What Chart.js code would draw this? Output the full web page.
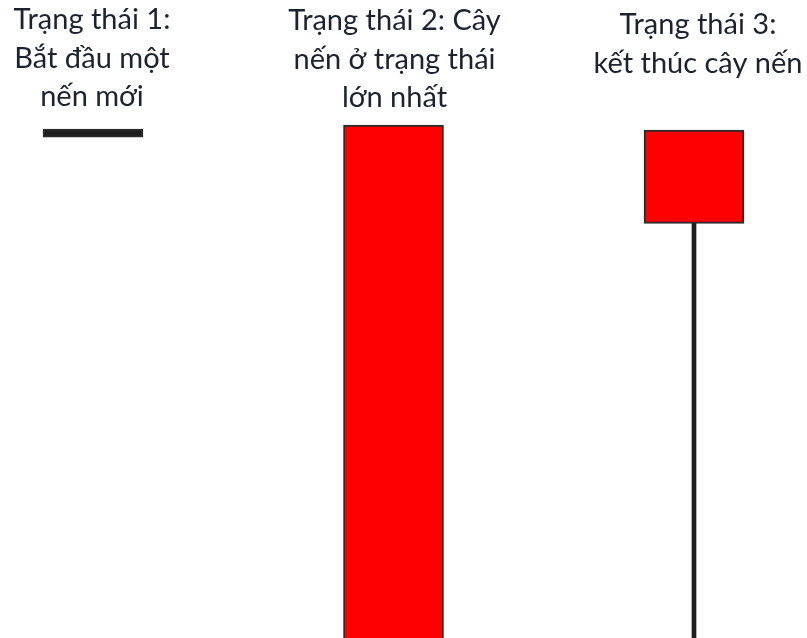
<!DOCTYPE html>
<html>
<head>
<meta charset="utf-8">
<script src="https://cdn.jsdelivr.net/npm/chart.js@4"></script>
<style>
  html, body { margin: 0; padding: 0; background: #fff; }
  #wrap { width: 807px; height: 638px; position: relative; }
</style>
</head>
<body>
<div id="wrap"><canvas id="candleChart"></canvas></div>
<script>
// three states of one candle
const categories = ["Trạng thái 1", "Trạng thái 2", "Trạng thái 3"];
const labelLines = [
  ["Trạng thái 1:", "Bắt đầu một", "nến mới"],
  ["Trạng thái 2: Cây", "nến ở trạng thái", "lớn nhất"],
  ["Trạng thái 3:", "kết thúc cây nến"]
];
const openVals = [78.5, 80.4, 79.6];
const closeVals = [78.5, -1, 65.0];
const highVals = [78.5, 80.4, 79.6];
const lowVals = [78.5, -1, -1];
const bodyColors = ["#1e1e1e", "#ff0000", "#ff0000"];

const labelPlugin = {
  id: "stateLabels",
  afterDraw(chart, args, opts) {
    const ctx = chart.ctx;
    const xScale = chart.scales.x;
    ctx.save();
    ctx.font = opts.font;
    ctx.fillStyle = opts.color;
    ctx.textAlign = "center";
    ctx.textBaseline = "alphabetic";
    labelLines.forEach((lines, i) => {
      const x = xScale.getPixelForValue(i) + opts.dx[i];
      lines.forEach((line, j) => {
        ctx.fillText(line, x, opts.top[i] + j * opts.lineHeight);
      });
    });
    ctx.restore();
  }
};

// lower and upper wicks, only where they have a length
const lowerWick = lowVals.map((l, i) => {
  const b = Math.min(openVals[i], closeVals[i]);
  return l < b ? [l, b] : null;
});
const upperWick = highVals.map((h, i) => {
  const t = Math.max(openVals[i], closeVals[i]);
  return h > t ? [t, h] : null;
});

const ctx = document.getElementById("candleChart").getContext("2d");
new Chart(ctx, {
  type: "bar",
  data: {
    labels: categories,
    datasets: [
      {
        label: "Bóng dưới",
        data: lowerWick,
        backgroundColor: "#1e1e1e",
        borderWidth: 0,
        barThickness: 4,
        grouped: false,
        order: 2,
        clip: false
      },
      {
        label: "Bóng trên",
        data: upperWick,
        backgroundColor: "#1e1e1e",
        borderWidth: 0,
        barThickness: 4,
        grouped: false,
        order: 2,
        clip: false
      },
      {
        label: "Thân nến",
        data: openVals.map((o, i) => [closeVals[i], o]),
        backgroundColor: bodyColors,
        borderColor: "#2b2b2b",
        borderWidth: 2,
        borderSkipped: false,
        barThickness: 100,
        minBarLength: 8,
        grouped: false,
        order: 1,
        clip: false
      }
    ]
  },
  options: {
    responsive: true,
    maintainAspectRatio: false,
    animation: false,
    layout: { padding: { left: 93, right: 113, top: 0, bottom: 0 } },
    plugins: {
      legend: { display: false },
      tooltip: { enabled: false },
      stateLabels: {
        font: "29px Lato, 'Noto Sans', sans-serif",
        color: "#1b2230",
        top: [29, 30, 34],
        dx: [-1, 1, 4],
        lineHeight: 38.5
      }
    },
    scales: {
      x: { display: false, offset: false },
      y: { display: false, min: 0, max: 100 }
    }
  },
  plugins: [labelPlugin]
});
</script>
</body>
</html>
